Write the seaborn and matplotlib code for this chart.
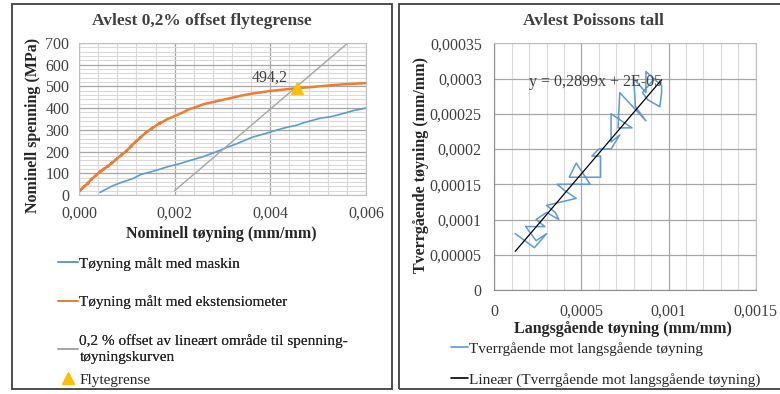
import numpy as np
import pandas as pd
import matplotlib
matplotlib.use("Agg")
import matplotlib.pyplot as plt
import seaborn as sns
from matplotlib.lines import Line2D
from matplotlib.patches import Rectangle
from matplotlib.ticker import MultipleLocator, FuncFormatter

# --- venstre diagram: spenning-tøyning ---
maskin_x = [0.44, 0.55, 0.70, 0.86, 1.00, 1.14, 1.30, 1.56, 1.75, 1.91, 2.00, 2.15, 2.26, 2.45,
            2.60, 2.80, 2.96, 3.10, 3.30, 3.50, 3.65, 3.85, 4.00, 4.20, 4.35, 4.56, 4.70, 4.90,
            5.05, 5.25, 5.40, 5.60, 5.74, 6.00]
maskin_y = [12, 25, 42, 56, 66, 77, 95, 110, 123, 134, 138, 147, 155, 167,
            177, 193, 207, 220, 236, 255, 268, 280, 290, 303, 312, 322, 333, 345,
            354, 360, 368, 380, 389, 400]

ekst_x = [0.00, 0.05, 0.03, 0.12, 0.10, 0.20, 0.17, 0.28, 0.25, 0.36, 0.33, 0.45, 0.42, 0.53,
          0.50, 0.62, 0.59, 0.70, 0.67, 0.80, 0.77, 0.90, 0.87, 1.00, 0.97, 1.10, 1.07, 1.20,
          1.17, 1.30, 1.27, 1.42, 1.39, 1.55, 1.52, 1.70, 1.67, 1.85, 2.00, 2.15, 2.30, 2.45,
          2.60, 2.80, 3.00, 3.20, 3.40, 3.65, 4.00, 4.30, 4.56, 4.80, 5.05, 5.30, 5.60, 6.00]
ekst_y = [15, 28, 22, 42, 36, 58, 50, 78, 70, 92, 86, 110, 102, 122,
          116, 136, 130, 150, 144, 168, 162, 188, 180, 205, 198, 228, 220, 250,
          242, 268, 262, 292, 285, 312, 306, 333, 327, 350, 363, 378, 395, 405,
          418, 428, 438, 448, 458, 468, 479, 486, 492, 496, 501, 506, 511, 515]

offset_x = [2.00, 5.62]
offset_y = [20, 700]

flyt_x = [4.555]
flyt_y = [494.2]

# --- høyre diagram: Poissons tall (x i 1e-4, y i 1e-5) ---
lang = [1.2, 2.3, 3.0, 2.4, 1.8, 2.9, 2.4, 3.0, 3.7, 3.5, 3.0, 4.7, 4.1, 3.6, 5.5, 4.7, 4.3,
        6.1, 6.1, 5.6, 6.0, 6.7, 7.2, 6.7, 6.7, 7.9, 7.1, 7.2, 8.7, 8.1, 8.0, 8.7, 8.7,
        9.6, 9.6, 9.5, 8.8, 8.5, 9.2]
tverr = [8, 6, 8, 7, 9, 9, 10, 11, 10, 11, 12, 13, 14, 15, 15, 18, 16,
         16, 19, 19, 20, 20, 22, 21, 25, 23, 23, 28, 24, 26, 30, 28, 31,
         29, 28, 26, 27, 28, 30]
stigning = 0.2899
konstant = 2e-05

blue = "#5B9BD5"
orange = "#ED7D31"
gray = "#A5A5A5"
gold = "#FFC000"

sns.set_style("white")
plt.rcParams["font.family"] = ["Liberation Serif", "DejaVu Serif"]
plt.rcParams["font.size"] = 11

W, H = 780, 394
fig = plt.figure(figsize=(7.8, 3.94), dpi=100)

def fx(px):
    return px / W

def fy(py):
    return 1 - py / H

# panel frames
fig.add_artist(Rectangle((fx(11.5), fy(389)), fx(392 - 11.5), (389 - 4) / H,
                         transform=fig.transFigure, fill=False, ec="#404040", lw=1.3))
fig.add_artist(Rectangle((fx(399.5), fy(389)), fx(790 - 399.5), (389 - 4) / H,
                         transform=fig.transFigure, fill=False, ec="#404040", lw=1.3))

# ---------- left ----------
ax1 = fig.add_axes([fx(79), fy(195), fx(287), 152 / H])
sns.lineplot(x=np.array(maskin_x) / 1000, y=maskin_y, sort=False, estimator=None,
             color=blue, lw=1.2, ax=ax1)
sns.lineplot(x=np.array(ekst_x) / 1000, y=ekst_y, sort=False, estimator=None,
             color=orange, lw=1.8, ax=ax1)
sns.lineplot(x=np.array(offset_x) / 1000, y=offset_y, sort=False, estimator=None,
             color=gray, lw=1.0, ax=ax1)
sns.scatterplot(x=np.array(flyt_x) / 1000, y=flyt_y, marker="^", s=80, color=gold,
                edgecolor=gold, ax=ax1, zorder=5)
ax1.text(0.00398, 540, "494,2", ha="center", va="center", fontsize=11.5, color="#404040")

ax1.set_xlim(0, 0.006)
ax1.set_ylim(0, 700)
ax1.xaxis.set_major_locator(MultipleLocator(0.002))
ax1.xaxis.set_minor_locator(MultipleLocator(0.0004))
ax1.yaxis.set_major_locator(MultipleLocator(100))
ax1.yaxis.set_minor_locator(MultipleLocator(20))
ax1.xaxis.set_major_formatter(FuncFormatter(lambda v, p: f"{v:.3f}".replace(".", ",")))
ax1.yaxis.set_major_formatter(FuncFormatter(lambda v, p: f"{v:.0f}"))
ax1.grid(which="major", color="#a6a6a6", lw=0.9)
ax1.grid(which="minor", color="#d9d9d9", lw=0.8)
ax1.set_axisbelow(True)
ax1.tick_params(which="both", length=0, labelsize=11.5, colors="#404040")
ax1.tick_params(axis="x", pad=8)
ax1.tick_params(axis="y", pad=7)
for s in ax1.spines.values():
    s.set_color("#bfbfbf")
    s.set_linewidth(0.8)
ax1.set_xlabel("Nominell tøyning (mm/mm)", fontweight="bold", fontsize=11.5)
ax1.xaxis.set_label_coords(0.4965, -0.255)
ax1.xaxis.label.set_va("center")
ax1.set_ylabel("Nominell spenning (MPa)", fontweight="bold", fontsize=11.5)
ax1.yaxis.set_label_coords(-0.16, 0.455)
ax1.yaxis.label.set_va("center")

fig.text(fx(202), fy(21), "Avlest 0,2% offset flytegrense", ha="center", va="center",
         fontweight="bold", fontsize=12.5, color="#404040")

leg1 = fig.legend(
    handles=[Line2D([], [], color=blue, lw=1.2), Line2D([], [], color=orange, lw=1.2),
             Line2D([], [], color=gray, lw=1.2)],
    labels=["Tøyning målt med maskin", "Tøyning målt med ekstensiometer",
            "0,2 % offset av lineært område til spenning-\ntøyningskurven"],
    loc="upper left", bbox_to_anchor=(fx(58), fy(257)), frameon=False, borderpad=0,
    borderaxespad=0, handlelength=1.3, handletextpad=0.1, labelspacing=1.62, fontsize=11)
for t in leg1.get_texts():
    t.set_linespacing(1.35)
fig.add_artist(leg1)
fig.legend(handles=[Line2D([], [], color=gold, marker="^", ls="none", markersize=8)],
           labels=["Flytegrense"], loc="upper left", bbox_to_anchor=(fx(58), fy(373)),
           frameon=False, borderpad=0, borderaxespad=0, handlelength=1.3,
           handletextpad=0.1, fontsize=11)

# ---------- right ----------
ax2 = fig.add_axes([fx(494.3), fy(290), fx(261.4), 246.7 / H])
lx = np.array(lang) * 1e-4
ty = np.array(tverr) * 1e-5
sns.lineplot(x=lx, y=ty, sort=False, estimator=None, color=blue, lw=1.1, ax=ax2)
trend_x = np.array([lx.min(), lx.max()])
sns.lineplot(x=trend_x, y=stigning * trend_x + konstant, color="black", lw=0.9, ax=ax2)
ax2.text(0.000199, 0.000295, "y = 0,2899x + 2E-05", ha="left", va="center",
         fontsize=11.5, color="#404040")

ax2.set_xlim(0, 0.0015)
ax2.set_ylim(0, 0.00035)
ax2.xaxis.set_major_locator(MultipleLocator(0.0005))
ax2.xaxis.set_minor_locator(MultipleLocator(0.0001))
ax2.yaxis.set_major_locator(MultipleLocator(0.00005))


def komma(v, p):
    s = np.format_float_positional(round(v, 7), trim="-")
    return s.replace(".", ",")


ax2.xaxis.set_major_formatter(FuncFormatter(komma))
ax2.yaxis.set_major_formatter(FuncFormatter(komma))
ax2.grid(which="major", color="#a6a6a6", lw=0.9)
ax2.grid(which="minor", axis="x", color="#d9d9d9", lw=0.8)
ax2.set_axisbelow(True)
ax2.tick_params(which="major", length=4, width=0.8, color="#a6a6a6", labelsize=11.5,
                labelcolor="#404040")
ax2.tick_params(which="minor", length=0)
ax2.tick_params(axis="x", pad=6)
ax2.tick_params(axis="y", pad=5)
for s in ax2.spines.values():
    s.set_color("#bfbfbf")
    s.set_linewidth(0.8)
ax2.spines["bottom"].set_color("#8c8c8c")
ax2.spines["left"].set_color("#8c8c8c")
ax2.set_xlabel("Langsgående tøyning (mm/mm)", fontweight="bold", fontsize=11.5)
ax2.xaxis.set_label_coords(0.492, -0.16)
ax2.xaxis.label.set_va("center")
ax2.set_ylabel("Tverrgående tøyning (mm/mm)", fontweight="bold", fontsize=11.5)
ax2.yaxis.set_label_coords(-0.28, 0.507)
ax2.yaxis.label.set_va("center")

fig.text(fx(593.5), fy(21), "Avlest Poissons tall", ha="center", va="center",
         fontweight="bold", fontsize=12.5, color="#404040")

fig.legend(handles=[Line2D([], [], color=blue, lw=1.2), Line2D([], [], color="black", lw=1.2)],
           labels=["Tverrgående mot langsgående tøyning",
                   "Lineær (Tverrgående mot langsgående tøyning)"],
           loc="upper left", bbox_to_anchor=(fx(451), fy(342)), frameon=False, borderpad=0,
           borderaxespad=0, handlelength=1.1, handletextpad=0.1, labelspacing=1.12,
           fontsize=11)

fig.savefig("out.png", dpi=100)
